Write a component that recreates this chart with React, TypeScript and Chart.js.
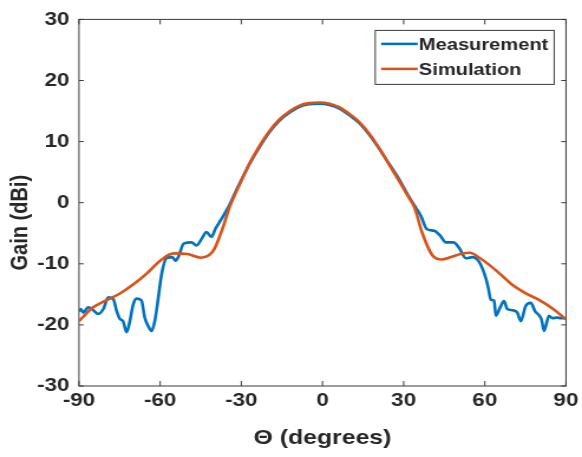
import { useEffect, useRef } from "react";
import { Chart, registerables } from "chart.js";

Chart.register(...registerables);

// ---- data ----
const measAngles = [
  -90, -89.3, -88.4, -86.6, -84.7, -82.9, -81.0, -79.2, -77.3, -76.1, -74.9, -73.7, -72.4, -71.2,
  -70.0, -68.7, -66.9, -65.7, -64.4, -63.2, -62.0, -60.7, -59.5, -57.7, -55.5, -54.3, -53.2,
  -51.3, -48.4, -46.6, -44.5, -42.9, -41.1, -39.5, -37.4, -34.3, -32, -30, -27, -23, -19.5, -16,
  -12, -8.5, -5, -1, 2.6, 6.3, 10, 13.6, 17.3, 21, 24.7, 28.4, 31, 33.3, 36.4, 38.5, 41.3, 43.5,
  45.6, 48.4, 50.5, 53.0, 55.4, 57.9, 60.4, 61.3, 62.2, 63.4, 64.1, 65.6, 67.1, 68.3, 70.2, 72.0,
  73.3, 75.1, 77.0, 78.6, 80.0, 81.0, 81.9, 83.7, 85.0, 86.7, 88.2, 90,
];
const measGain = [
  -17.8, -17.4, -18.0, -17.1, -17.6, -18.2, -17.4, -15.5, -15.8, -17.7, -19.0, -19.4, -21.2, -19.4,
  -16.7, -15.7, -16.0, -18.8, -20.2, -21.0, -19.4, -15.6, -11.8, -9.1, -8.9, -9.5, -8.8,
  -6.7, -6.5, -7.0, -5.8, -4.8, -5.6, -4.2, -2.7, -0.3, 1.9, 3.7, 6.3, 9.3, 11.6, 13.4,
  14.8, 15.7, 16.1, 16.2, 16.0, 15.4, 14.3, 13.0, 11.1, 8.8, 6.3, 3.8, 1.7, 0.0, -2.2, -4.3, -4.6,
  -5.4, -6.5, -6.5, -7.4, -9.1, -8.9, -9.7, -12.4, -14.0, -15.9, -16.0, -18.5, -17.2, -16.1, -17.4,
  -17.6, -18.0, -19.4, -16.9, -16.4, -17.8, -18.4, -19.2, -21.0, -18.5, -18.9, -18.8, -18.9, -18.9,
];

const simAngles = [
  -90, -85, -80, -75, -70, -65, -60, -55, -50, -45, -42, -40, -37, -34.3, -30.6, -27, -23, -19.5,
  -16, -12, -8.5, -5, -1, 2.6, 6.3, 10, 13.6, 17.3, 21, 24.7, 28.4, 32, 34, 36.9, 40.6, 44,
  47.5, 51, 54.5, 58, 62, 66, 70, 75, 80, 85, 90,
];
const simGain = [
  -19.4, -17.2, -16.0, -14.9, -13.4, -11.6, -9.5, -8.3, -8.4, -9.0, -8.6, -7.6, -4.3, -0.7, 3.0,
  6.4, 9.5, 11.8, 13.6, 15.0, 15.9, 16.3, 16.4, 16.2, 15.6, 14.5, 13.2, 11.3, 8.9, 6.2, 3.5,
  0.8, -0.8, -5.0, -8.6, -9.3, -8.9, -8.4, -8.2, -9.0, -10.3, -11.8, -13.4, -14.8, -15.9, -17.3,
  -19.1,
];

const xTicks = [-90, -60, -30, 0, 30, 60, 90];
const yTicks = [-30, -20, -10, 0, 10, 20, 30];
const seriesLabels = ["Measurement", "Simulation"];
const seriesColors = ["#0072BD", "#D95319"];
const xTitle = "\u0398 (degrees)";
const yTitle = "Gain (dBi)";

// ---- layout / style ----
const CANVAS_W = 493;
const CANVAS_H = 457;
const VIEW_W = 582;
const FONT = '"Liberation Sans", Arial, Helvetica, sans-serif';
const INK = "#262626";

const matlabPlugin = {
  id: "matlabFrame",
  beforeDatasetsDraw(chart: any) {
    const { ctx, chartArea: a, scales } = chart;
    ctx.save();
    ctx.strokeStyle = "#3a3a3a";
    ctx.lineWidth = 1;
    ctx.strokeRect(a.left, a.top, a.right - a.left, a.bottom - a.top);
    ctx.beginPath();
    for (const v of xTicks) {
      const px = scales.x.getPixelForValue(v);
      ctx.moveTo(px, a.bottom);
      ctx.lineTo(px, a.bottom - 5);
      ctx.moveTo(px, a.top);
      ctx.lineTo(px, a.top + 5);
    }
    for (const v of yTicks) {
      const py = scales.y.getPixelForValue(v);
      ctx.moveTo(a.left, py);
      ctx.lineTo(a.left + 4, py);
      ctx.moveTo(a.right, py);
      ctx.lineTo(a.right - 4, py);
    }
    ctx.stroke();
    ctx.restore();
  },
  afterDraw(chart: any) {
    const { ctx, chartArea: a } = chart;
    // y axis title
    ctx.save();
    ctx.translate(17.8, (a.top + a.bottom) / 2 + 20);
    ctx.rotate(-Math.PI / 2);
    ctx.textAlign = "center";
    ctx.textBaseline = "middle";
    ctx.font = `bold 20px ${FONT}`;
    ctx.fillStyle = INK;
    ctx.fillText(yTitle, 0, 0);
    ctx.restore();

    // legend (MATLAB style, inside top-right)
    ctx.save();
    ctx.font = `bold 17px ${FONT}`;
    const ds = chart.data.datasets;
    let tw = 0;
    for (const d of ds) tw = Math.max(tw, ctx.measureText(d.label).width);
    const lineLen = 31;
    const padL = 5;
    const w = padL + lineLen + 1 + tw + 5;
    const h = 54;
    const right = a.right - 10;
    const left = right - w;
    const top = a.top + 11;
    ctx.fillStyle = "#ffffff";
    ctx.fillRect(left, top, w, h);
    ctx.strokeStyle = "#3a3a3a";
    ctx.lineWidth = 1;
    ctx.strokeRect(left, top, w, h);
    ds.forEach((d: any, i: number) => {
      const cy = top + 13.5 + i * 25;
      ctx.strokeStyle = d.borderColor;
      ctx.lineWidth = 2.5;
      ctx.beginPath();
      ctx.moveTo(left + padL, cy);
      ctx.lineTo(left + padL + lineLen, cy);
      ctx.stroke();
      ctx.fillStyle = INK;
      ctx.textAlign = "left";
      ctx.textBaseline = "middle";
      ctx.fillText(d.label, left + padL + lineLen + 1, cy + 1);
    });
    ctx.restore();
  },
};

export default function App() {
  const ref = useRef<HTMLCanvasElement>(null);

  useEffect(() => {
    document.body.style.margin = "0";
    const canvas = ref.current;
    if (!canvas) return;
    const tickFont = { family: FONT, size: 19, weight: "bold" as const };
    const chart = new Chart(canvas, {
      type: "line",
      data: {
        datasets: [
          {
            label: seriesLabels[0],
            data: measAngles.map((x, i) => ({ x, y: measGain[i] })),
            borderColor: seriesColors[0],
            backgroundColor: seriesColors[0],
            borderWidth: 2.6,
            pointRadius: 0,
            cubicInterpolationMode: "monotone",
            order: 1,
          },
          {
            label: seriesLabels[1],
            data: simAngles.map((x, i) => ({ x, y: simGain[i] })),
            borderColor: seriesColors[1],
            backgroundColor: seriesColors[1],
            borderWidth: 2.6,
            pointRadius: 0,
            cubicInterpolationMode: "monotone",
            order: 0,
          },
        ],
      },
      options: {
        animation: false,
        responsive: false,
        devicePixelRatio: 1,
        events: [],
        layout: { padding: { left: 0, right: 12.7, top: 14, bottom: 0 } },
        plugins: {
          legend: { display: false },
          tooltip: { enabled: false },
        },
        scales: {
          x: {
            type: "linear",
            min: -90,
            max: 90,
            afterBuildTicks: (s: any) => {
              s.ticks = xTicks.map((value) => ({ value }));
            },
            afterFit: (s: any) => {
              s.height = 71;
            },
            grid: { display: false, drawTicks: false },
            border: { display: false },
            ticks: {
              font: tickFont,
              color: INK,
              padding: 3,
              maxRotation: 0,
              autoSkip: false,
            },
            title: {
              display: true,
              text: xTitle,
              color: INK,
              font: { family: FONT, size: 21, weight: "bold" },
              padding: { top: 0, bottom: 6 },
            },
          },
          y: {
            type: "linear",
            min: -30,
            max: 30,
            afterBuildTicks: (s: any) => {
              s.ticks = yTicks.map((value) => ({ value }));
            },
            afterFit: (s: any) => {
              s.width = 66.9;
            },
            grid: { display: false, drawTicks: false },
            border: { display: false },
            ticks: {
              font: tickFont,
              color: INK,
              padding: 8,
              autoSkip: false,
            },
          },
        },
      },
      plugins: [matlabPlugin],
    });
    return () => chart.destroy();
  }, []);

  return (
    <div style={{ width: VIEW_W, height: CANVAS_H, overflow: "hidden", background: "#fff" }}>
      <canvas
        ref={ref}
        width={CANVAS_W}
        height={CANVAS_H}
        style={{ width: `${VIEW_W}px`, height: `${CANVAS_H}px`, display: "block" }}
      />
    </div>
  );
}
